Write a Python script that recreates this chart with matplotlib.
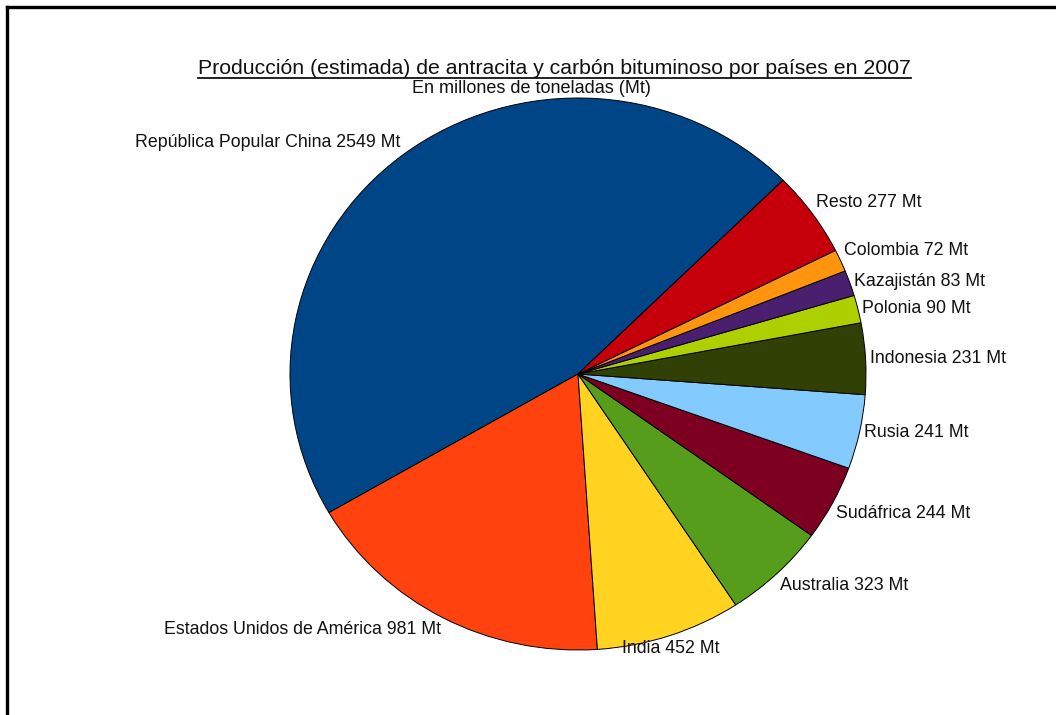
import numpy as np
import matplotlib.pyplot as plt
from matplotlib.lines import Line2D

plt.rcParams['font.family'] = ['Liberation Sans', 'DejaVu Sans']

paises = ['República Popular China', 'Estados Unidos de América', 'India',
          'Australia', 'Sudáfrica', 'Rusia', 'Indonesia', 'Polonia',
          'Kazajistán', 'Colombia', 'Resto']
produccion = [2549, 981, 452, 323, 244, 241, 231, 90, 83, 72, 277]
colores = ['#004586', '#ff420e', '#ffd320', '#579d1c', '#7e0021', '#83caff',
           '#314004', '#aecf00', '#4b1f6f', '#ff950e', '#c5000b']

W, H = 1056, 715
fig = plt.figure(figsize=(W / 100, H / 100), dpi=100)

# pie area in pixels: centre (578, 374), radii 288 x 276
cx, cy, rx, ry = 578, 374, 288, 276
ax = fig.add_axes([(cx - rx) / W, (H - cy - ry) / H, 2 * rx / W, 2 * ry / H])

wedges, _ = ax.pie(produccion, colors=colores, startangle=44.6,
                   counterclock=True,
                   wedgeprops=dict(edgecolor='black', linewidth=0.7))
ax.set_aspect('auto')
ax.set_xlim(-1, 1)
ax.set_ylim(-1, 1)
ax.axis('off')

for w, nombre, valor in zip(wedges, paises, produccion):
    ang = np.deg2rad((w.theta1 + w.theta2) / 2)
    c, s = np.cos(ang), np.sin(ang)
    ha = 'left' if c > 0.4 else ('right' if c < -0.4 else 'center')
    va = 'bottom' if s > 0.35 else ('top' if s < -0.35 else 'center')
    ax.text(1.015 * c, 1.015 * s, f'{nombre} {valor} Mt', ha=ha, va=va,
            fontsize=12.8, color='#111111', clip_on=False)

# title with underline
titulo = fig.text(554.5 / W, 1 - 74 / H,
                  'Producción (estimada) de antracita y carbón bituminoso por países en 2007',
                  ha='center', va='baseline', fontsize=15.35, color='#111111')
fig.text(531 / W, 1 - 93 / H, 'En millones de toneladas (Mt)',
         ha='center', va='baseline', fontsize=13, color='#111111')

fig.canvas.draw()
bb = titulo.get_window_extent()
yl = 1 - 77.5 / H
fig.add_artist(Line2D([bb.x0 / W, bb.x1 / W], [yl, yl], color='#111111', lw=1.3))

# outer frame (left and top edges visible)
fig.add_artist(Line2D([7 / W, 7 / W], [0, 1 - 7 / H], color='black', lw=2.4))
fig.add_artist(Line2D([7 / W, 1], [1 - 7 / H, 1 - 7 / H], color='black', lw=2.4))

fig.savefig('out.png', dpi=100, facecolor='white')
